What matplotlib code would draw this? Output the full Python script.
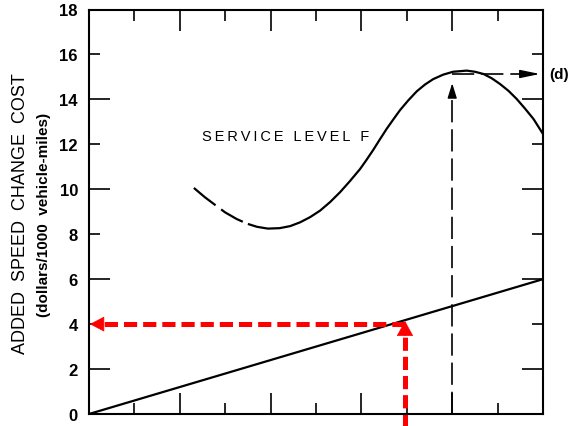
import matplotlib
matplotlib.use("Agg")
import matplotlib.pyplot as plt

plt.rcParams['font.family'] = ['Liberation Sans', 'DejaVu Sans']
plt.rcParams['lines.scale_dashes'] = False

# Service level F cost curve
curve_x = [2.31, 2.55, 2.78, 3.00, 3.25, 3.48, 3.70, 3.94, 4.20, 4.43, 4.65, 4.87,
           5.09, 5.31, 5.53, 5.75, 5.97, 6.11, 6.26, 6.41, 6.56, 6.70, 6.85, 7.03,
           7.22, 7.40, 7.58, 7.80, 8.02, 8.32, 8.50, 8.69, 8.87, 9.05, 9.24, 9.42,
           9.60, 9.79, 10.0]
curve_y = [10.06, 9.65, 9.30, 8.97, 8.68, 8.47, 8.33, 8.25, 8.27, 8.36, 8.53, 8.76,
           9.05, 9.43, 9.87, 10.37, 10.90, 11.30, 11.75, 12.23, 12.70, 13.10, 13.52, 13.95,
           14.36, 14.66, 14.90, 15.10, 15.23, 15.28, 15.23, 15.13, 14.94, 14.69, 14.38, 14.02,
           13.60, 13.13, 12.46]

# Straight cost line
line_x = [0, 10]
line_y = [0, 6]

# Read-off construction (d): vertical at x=8 up to the peak, across to the axis
d_x = 8.0
d_tip_y = 14.72
d_level = 15.13
d_right = 9.93

# Red read-off: from x=6.96 up to the line, then across to the axis
red_x = 6.96
red_tip_y = 4.14
red_level = 4.0

y_major = [2, 6, 10, 14, 18]
y_minor = [0, 4, 8, 12, 16]
x_major = [2, 4, 6, 8]
x_minor = [1, 3, 5, 7, 9]


def spaced(text):
    """Letter-spaced caption: thin spaces between letters, wider gaps between words."""
    return '\u2009 \u2009'.join('\u2009'.join(w) for w in text.split())


W, H = 571, 427
fig = plt.figure(figsize=(W / 100, H / 100), dpi=100)
ax = fig.add_axes([89 / W, (H - 415) / H, (543 - 89) / W, (415 - 10.5) / H])
ax.set_xlim(0, 10)
ax.set_ylim(0, 18)

for s in ax.spines.values():
    s.set_linewidth(1.5)

ax.set_xticks(x_major)
ax.set_xticks(x_minor, minor=True)
ax.set_xticklabels([])
ax.set_yticks(y_major)
ax.set_yticks(y_minor, minor=True)
ax.set_yticklabels([str(v) for v in y_major])
ax.set_yticklabels([str(v) for v in y_minor], minor=True)
ax.tick_params(which='both', direction='in', top=True, right=True, width=1.2,
               labelsize=12, pad=8)
ax.tick_params(which='major', length=15)
ax.tick_params(which='minor', length=8)
for lab in ax.get_yticklabels() + ax.get_yticklabels(minor=True):
    lab.set_fontweight('bold')

lw = 1.6
ax.plot(line_x, line_y, color='black', lw=lw, solid_capstyle='butt')
ax.plot(curve_x, curve_y, color='black', lw=lw, solid_joinstyle='round',
        linestyle=(0, (20, 5, 18, 4, 2000, 1)))

ax.text(2.49, 12.37, spaced('SERVICE LEVEL F'), fontsize=10.5, va='center', ha='left')

# black construction lines
ax.plot([d_x, d_x], [0, d_tip_y - 0.55], color='black', lw=1.2, linestyle=(0, (16, 5)))
ax.annotate('', xy=(d_x, d_tip_y), xytext=(d_x, d_tip_y - 0.6),
            arrowprops=dict(arrowstyle='-|>,head_length=0.9,head_width=0.28',
                            color='black', lw=1.0, shrinkA=0, shrinkB=0))
ax.plot([d_x, d_right - 0.38], [d_level, d_level], color='black', lw=1.2,
        linestyle=(0, (16, 5)))
ax.annotate('', xy=(d_right, d_level), xytext=(d_right - 0.4, d_level),
            arrowprops=dict(arrowstyle='-|>,head_length=1.2,head_width=0.25',
                            color='black', lw=1.0, shrinkA=0, shrinkB=0),
            annotation_clip=False)
ax.text(10.13, d_level, '(d)', fontsize=11, fontweight='bold', va='center', ha='left',
        clip_on=False)

# red read-off arrows
red = '#ff0000'
ax.plot([red_x, 0.3], [red_level, red_level], color=red, lw=3.6,
        linestyle=(0, (9.5, 4.3)), solid_capstyle='butt', dash_capstyle='butt')
ax.annotate('', xy=(0.02, red_level), xytext=(0.33, red_level),
            arrowprops=dict(arrowstyle='-|>,head_length=0.95,head_width=0.5',
                            color=red, lw=0.5, shrinkA=0, shrinkB=0),
            annotation_clip=False)
ax.plot([red_x, red_x], [-0.6, red_tip_y - 0.62], color=red, lw=3.6,
        linestyle=(0, (9.5, 4.3)), dash_capstyle='butt', clip_on=False)
ax.annotate('', xy=(red_x, red_tip_y), xytext=(red_x, red_tip_y - 0.66),
            arrowprops=dict(arrowstyle='-|>,head_length=1.0,head_width=0.55',
                            color=red, lw=0.5, shrinkA=0, shrinkB=0),
            annotation_clip=False)

fig.text(21 / W, (H - 214) / H, 'ADDED  SPEED  CHANGE  COST', rotation=90,
         fontsize=13, ha='center', va='center')
fig.text(44 / W, (H - 215) / H, '(dollars/1000  vehicle-miles)', rotation=90,
         fontsize=11, fontweight='bold', ha='center', va='center')

fig.savefig('out.png', dpi=100)
